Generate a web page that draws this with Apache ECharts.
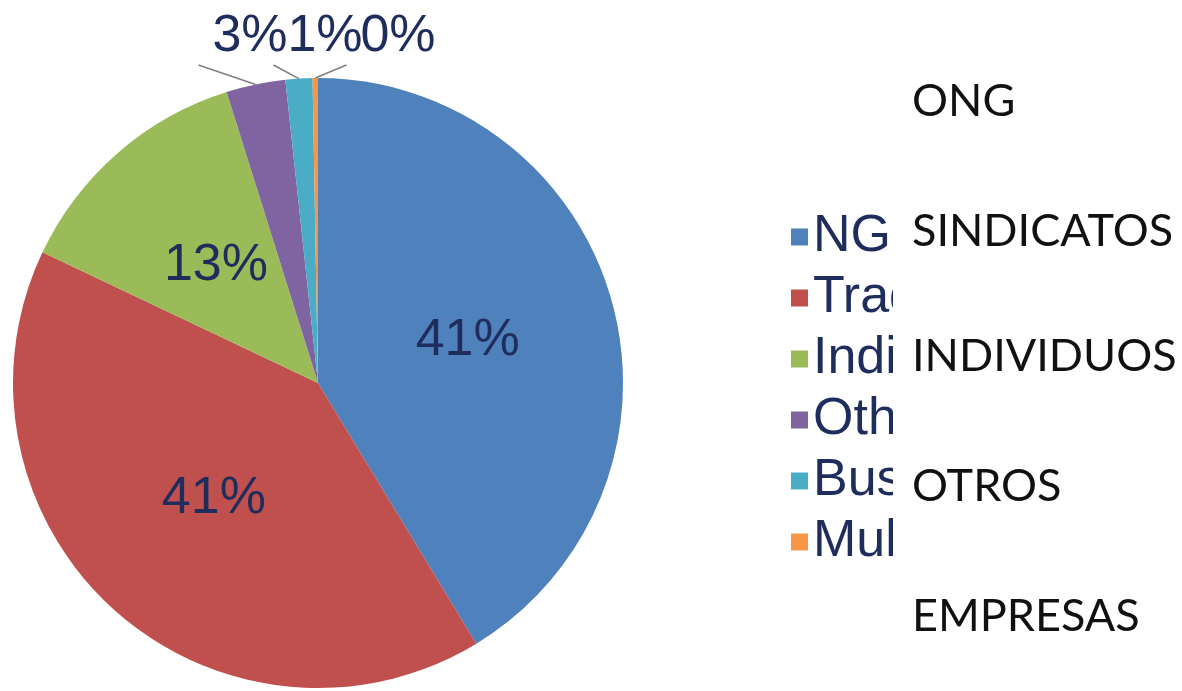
<!DOCTYPE html>
<html>
<head>
<meta charset="utf-8">
<script src="https://cdn.jsdelivr.net/npm/echarts@6/dist/echarts.min.js"></script>
<style>
html, body { margin: 0; padding: 0; background: #fff; }
#pie { width: 1182px; height: 691px; }
</style>
</head>
<body>
<div id="pie"></div>
<script>
// categorias de la leyenda original (cortada por el recuadro blanco)
const categories = ['NGOs', 'Trade unions', 'Individuals', 'Others', 'Business', 'Multi-stakeholder']
// respuestas por categoria (estimadas a partir de los angulos)
const responses = [145, 143, 46, 11, 5, 1]
// etiquetas en castellano pegadas encima de la leyenda
const spanishLabels = ['ONG', 'SINDICATOS', 'INDIVIDUOS', 'OTROS', 'EMPRESAS']

const colors = ['#4f81bd', '#c0504d', '#9bbb59', '#8064a2', '#4bacc6', '#f79646']
const textColor = '#1f2d5c'
// posicion de las etiquetas exteriores (porciones pequeñas)
const outerLabelPos = { 3: [250, 37], 4: [325, 37], 5: [398, 37] }
const spanishY = [101, 231, 356, 486, 616]

const total = responses.reduce((a, b) => a + b, 0)

const chart = echarts.init(document.getElementById('pie'))

const pieData = categories.map((name, i) => {
  const small = responses[i] / total < 0.05
  return {
    name: name,
    value: responses[i],
    itemStyle: { color: colors[i] },
    label: { position: small ? 'outside' : 'inside' },
    labelLine: {
      show: small,
      length: 10,
      length2: 10,
      lineStyle: { color: '#7f7f7f', width: 1.5 }
    }
  }
})

const option = {
  animation: false,
  backgroundColor: '#ffffff',
  legend: {
    orient: 'vertical',
    left: 786,
    top: 206,
    itemWidth: 17,
    itemHeight: 17,
    itemGap: 9,
    icon: 'rect',
    selectedMode: false,
    textStyle: {
      fontSize: 52,
      lineHeight: 52,
      color: textColor,
      fontFamily: 'Liberation Sans'
    },
    data: categories
  },
  graphic: [
    {
      type: 'rect',
      x: 893,
      y: 0,
      z: 100,
      shape: { width: 289, height: 691 },
      style: { fill: '#ffffff' }
    }
  ].concat(spanishLabels.map((t, i) => ({
    type: 'text',
    x: 912,
    y: spanishY[i],
    z: 101,
    style: {
      text: t,
      fill: '#111111',
      font: '45px Lato',
      align: 'left',
      verticalAlign: 'middle'
    }
  }))),
  series: [
    {
      type: 'pie',
      center: [318, 383],
      radius: 305,
      startAngle: 90,
      clockwise: true,
      avoidLabelOverlap: false,
      emphasis: { disabled: true },
      label: {
        fontSize: 52,
        lineHeight: 60,
        color: textColor,
        fontFamily: 'Liberation Sans',
        formatter: (p) => Math.round(p.value / total * 100) + '%'
      },
      labelLayout: (p) => {
        const pos = outerLabelPos[p.dataIndex]
        if (!pos) return {}
        const w = p.labelRect.width
        const start = p.labelLinePoints ? p.labelLinePoints[0] : [pos[0], pos[1] + 45]
        return {
          x: pos[0],
          y: pos[1],
          align: 'center',
          verticalAlign: 'middle',
          labelLinePoints: [start, [pos[0] - w / 2 - 14, pos[1] + 28]]
        }
      },
      data: pieData
    }
  ]
}

chart.setOption(option)
</script>
</body>
</html>
